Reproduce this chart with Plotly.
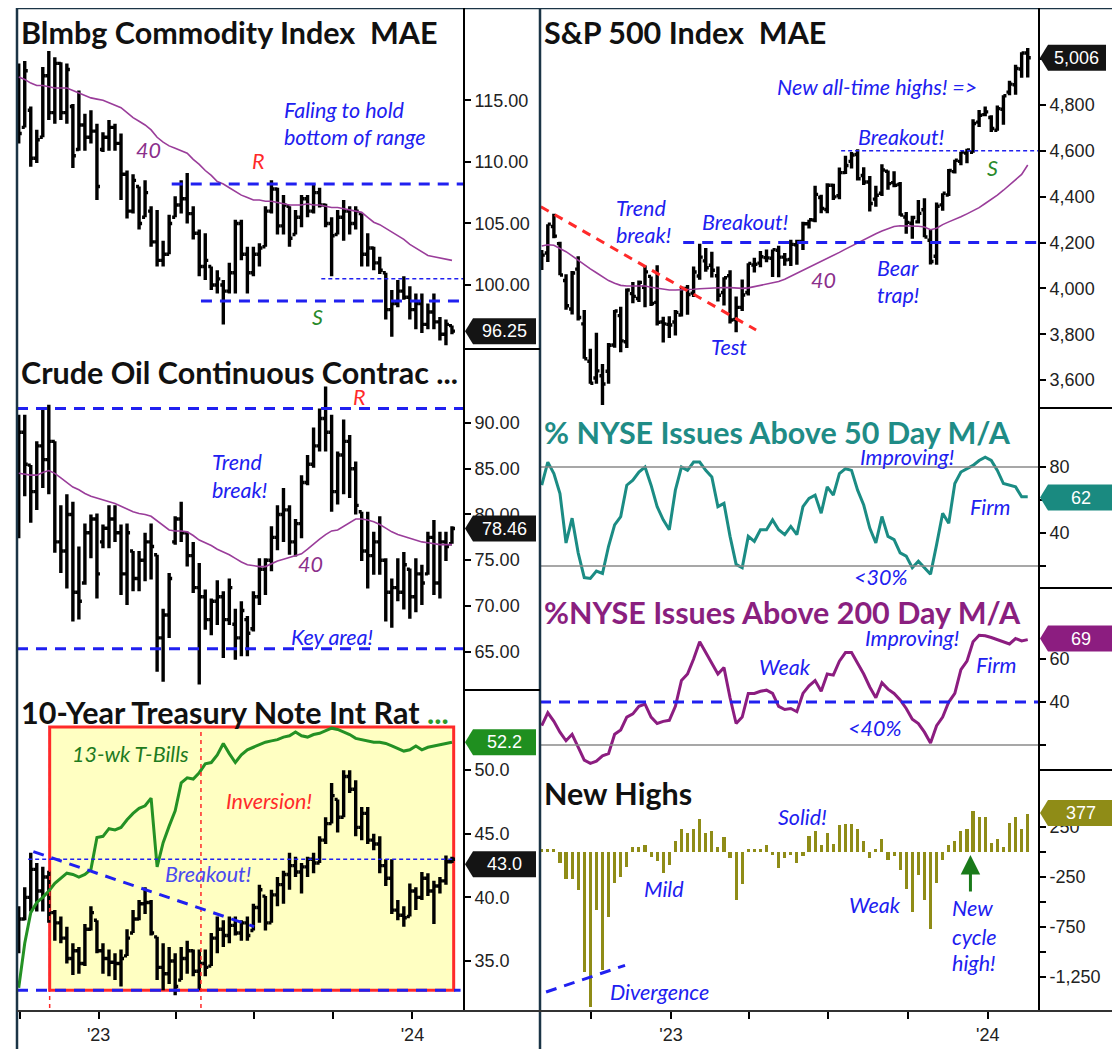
import pandas as pd
import plotly.graph_objects as go

# the page body has an 8px margin, so the figure is drawn 8px smaller and all
# pixel positions below are given in window pixels
OFF = 8
W, H = 1120 - OFF, 1049 - OFF

# ---------------- categories (weekly bars, Friday closes) ----------------
left_weeks = pd.date_range("2022-09-30", periods=73, freq="W-FRI")
right_weeks = pd.date_range("2022-08-05", periods=81, freq="W-FRI")
quarter_ticks = ["2022-10-01", "2023-01-01", "2023-04-01", "2023-07-01", "2023-10-01", "2024-01-01"]
quarter_text = ["", "'23", "", "", "", "'24"]

# ---------------- Bloomberg Commodity Index ----------------
bcom_open = [117.0,112.8,114.2,110.3,112.0,117.0,114.0,118.0,114.0,114.5,
             111.0,113.0,112.0,112.5,111.0,112.0,112.8,111.5,109.0,106.0,
             108.0,105.5,106.0,103.5,102.0,102.5,105.5,106.5,107.0,105.8,
             104.2,101.5,101.5,100.0,100.0,99.5,101.0,105.0,102.5,101.0,
             102.5,103.1,106.0,107.8,104.8,106.4,104.1,105.5,107.0,106.0,
             107.5,106.5,105.0,104.1,105.5,106.0,105.0,105.8,102.5,103.0,
             101.8,101.0,98.0,98.5,99.5,99.0,98.0,98.5,96.8,97.8,
             97.0,96.0,96.7]
bcom_high = [118.0,118.2,114.5,112.6,117.7,119.0,118.5,118.1,118.0,114.7,
             115.8,113.9,114.2,113.1,112.4,113.4,113.1,112.3,109.3,109.0,
             108.0,108.5,106.4,106.1,103.6,105.7,107.2,108.5,109.1,106.4,
             104.5,104.2,101.5,101.2,100.4,101.8,105.3,105.3,103.1,103.1,
             103.4,106.4,108.5,107.9,107.3,106.4,106.1,107.3,107.3,108.2,
             107.9,106.6,105.5,106.1,106.9,106.4,106.4,105.8,104.2,103.1,
             102.3,101.0,99.6,100.4,100.7,99.9,99.3,99.3,98.5,99.3,
             97.4,97.2,96.7]
bcom_low = [111.5,112.8,109.6,109.9,112.0,113.4,113.1,113.4,113.1,109.5,
            110.9,110.9,111.5,106.9,110.8,110.9,110.9,106.9,105.4,105.8,
            104.5,105.5,103.1,101.5,101.5,102.5,105.5,105.8,105.0,103.7,
            100.7,100.4,99.6,99.3,96.8,99.3,99.3,102.0,99.3,100.7,
            101.5,103.1,105.8,104.1,104.1,103.1,104.1,104.7,105.5,105.8,
            106.3,104.7,100.7,104.1,103.6,104.1,104.5,101.5,101.5,101.2,
            100.9,97.2,95.8,98.2,98.8,97.2,96.4,96.1,96.4,96.4,
            95.5,95.1,96.0]
bcom_close = [112.3,117.4,110.3,111.8,117.0,114.0,118.0,114.0,117.5,110.5,
              113.0,112.0,112.5,108.0,112.0,112.8,111.5,109.0,106.0,108.5,
              105.0,107.5,103.5,102.0,102.5,105.0,106.5,107.0,105.8,104.2,
              101.5,102.0,100.0,100.5,99.5,101.0,105.0,102.5,101.0,102.5,
              103.0,106.0,107.8,104.8,106.5,103.8,105.5,107.0,106.0,107.5,
              106.5,105.0,104.0,105.5,106.0,105.0,106.0,102.5,103.0,101.8,
              101.2,98.0,98.5,99.5,99.0,98.0,98.5,96.8,97.8,97.0,
              96.0,96.8,96.25]
bcom_ma40 = [116.9,116.7,116.4,116.2,116.2,116.1,116.0,116.0,116.0,115.8,
             115.6,115.4,115.2,115.1,115.0,114.8,114.6,114.4,114.0,113.6,
             113.3,113.0,112.6,112.0,111.6,111.3,111.1,110.9,110.7,110.2,
             109.8,109.3,108.9,108.4,108.2,107.9,107.6,107.3,107.1,106.9,
             106.9,106.8,106.8,106.7,106.6,106.5,106.5,106.5,106.6,106.5,
             106.5,106.4,106.3,106.3,106.2,106.1,106.0,105.9,105.5,105.1,
             104.9,104.6,104.3,104.0,103.7,103.3,103.0,102.7,102.4,102.3,
             102.2,102.1,102.0]

# ---------------- Crude oil continuous contract ----------------
crude_open = [79.0,89.0,85.4,82.5,87.5,86.0,88.0,77.0,76.0,80.0,
              71.5,72.5,78.0,79.5,77.0,78.5,79.5,78.0,73.5,76.0,
              73.0,75.0,77.0,75.6,66.5,69.0,77.0,79.5,78.0,75.5,
              72.0,71.0,68.5,70.5,71.0,68.5,68.0,66.5,68.5,67.5,
              71.0,74.0,75.0,77.5,80.0,80.5,77.0,79.0,83.5,85.5,
              87.5,90.5,89.0,82.5,86.5,88.0,85.0,80.3,76.0,75.5,
              77.0,75.0,71.5,72.0,71.5,74.0,71.0,73.5,73.5,77.5,
              72.5,77.0,76.8]
crude_high = [90.9,90.9,85.4,88.0,91.6,92.0,88.0,81.0,82.2,81.4,
              76.5,79.0,80.0,80.1,78.9,81.0,81.0,78.9,79.0,76.0,
              76.0,78.0,79.0,75.6,69.7,73.6,79.8,81.4,78.1,77.0,
              74.7,71.8,70.8,72.8,71.6,73.0,69.7,70.5,68.9,71.6,
              75.2,75.2,78.7,81.0,82.9,81.0,79.5,84.3,86.5,89.5,
              91.6,94.0,90.9,86.9,90.4,88.7,85.8,80.3,80.3,78.1,
              79.8,75.2,73.0,75.2,75.9,74.1,75.2,74.5,78.1,79.4,
              78.1,78.1,78.7]
crude_low = [77.4,82.0,79.1,80.5,82.9,82.2,75.8,73.6,71.9,68.3,
             68.5,72.3,75.2,70.8,76.3,76.3,77.0,71.2,70.1,71.6,
             71.6,72.7,72.9,62.8,61.7,66.5,76.7,77.0,74.3,71.4,
             61.4,67.4,66.8,67.9,64.3,67.9,64.1,64.5,64.5,67.2,
             70.1,71.2,73.8,76.1,77.0,75.6,75.4,77.4,83.2,85.1,
             86.9,86.9,80.3,81.1,82.2,81.8,80.0,74.9,71.9,73.4,
             73.4,68.3,67.6,70.5,69.6,68.6,69.3,70.1,73.4,71.2,
             70.8,74.9,76.8]
crude_close = [89.0,85.5,82.5,87.5,86.0,88.0,77.0,76.0,80.0,71.5,
               70.5,78.0,79.5,73.5,78.5,79.5,78.0,73.5,78.0,73.0,
               75.0,77.0,76.5,66.5,69.0,73.0,79.5,78.0,75.5,72.0,
               71.0,68.5,70.5,71.0,68.5,72.0,66.5,69.5,67.0,71.0,
               74.0,75.0,77.5,80.0,80.5,77.0,79.0,83.5,85.5,87.5,
               90.5,89.0,82.5,86.5,88.0,85.0,81.0,76.0,75.5,77.0,
               75.0,71.5,72.0,71.5,74.5,71.0,73.5,72.5,77.5,72.5,
               77.0,76.5,78.46]
crude_ma40 = [84.5,84.4,84.3,84.3,84.6,84.8,84.5,84.0,83.5,83.0,
              82.7,82.3,82.0,81.8,81.6,81.4,81.2,80.9,80.6,80.3,
              80.1,80.0,79.8,79.3,78.8,78.3,78.2,78.2,78.1,77.7,
              77.2,76.9,76.6,76.2,75.9,75.6,75.2,74.8,74.5,74.4,
              74.3,74.3,74.6,74.9,75.1,75.3,75.5,75.7,76.2,76.8,
              77.3,77.8,78.2,78.3,78.7,79.1,79.5,79.5,79.4,79.2,
              78.9,78.5,78.1,77.8,77.6,77.4,77.2,77.0,76.9,76.8,
              76.7,76.7,76.7]

# ---------------- 10-Year Treasury yield (x10) and 13-week T-bill ----------------
tnx_open = [36.5,38.3,40.0,42.2,40.5,41.6,38.8,38.0,36.8,35.2,
            35.8,34.8,37.5,38.2,35.8,35.2,34.9,34.8,35.4,37.2,
            38.3,39.5,39.6,36.9,34.5,34.0,35.0,33.5,35.2,35.8,
            34.2,34.8,34.6,36.8,37.5,37.0,37.8,37.2,38.0,37.4,
            39.2,40.1,38.0,40.2,41.0,41.8,42.5,42.0,42.4,43.0,
            42.7,44.5,45.8,47.7,46.3,49.5,48.5,45.5,46.6,44.5,
            44.2,42.5,41.5,39.0,38.6,38.5,40.5,40.0,41.5,40.5,
            40.9,41.3,42.8]
tnx_high = [39.3,40.8,43.5,42.7,42.4,42.1,39.0,38.5,37.7,36.4,
            36.1,37.9,39.3,38.2,36.4,35.9,35.6,35.9,37.5,39.0,
            39.8,40.8,39.8,36.9,36.4,36.1,35.6,36.1,36.6,35.9,
            35.9,35.9,37.2,38.5,38.2,38.5,38.5,38.2,38.5,39.5,
            41.0,40.1,40.6,41.6,42.1,43.5,43.2,42.7,43.2,43.5,
            44.8,46.3,49.0,47.7,50.0,50.0,49.2,47.1,47.1,45.0,
            44.8,43.0,43.0,39.8,39.3,41.1,40.8,42.0,41.9,41.3,
            41.6,43.3,43.2]
tnx_low = [35.6,38.2,38.9,38.9,38.9,38.0,36.6,36.4,34.8,33.9,
           34.0,34.6,37.4,35.6,34.0,33.8,33.5,33.0,35.4,37.2,
           38.2,38.7,37.0,33.5,32.7,33.2,32.3,33.5,34.0,33.8,
           32.7,33.8,34.6,35.6,36.1,36.4,37.0,36.6,36.6,37.4,
           38.0,37.4,38.0,39.3,39.5,40.6,41.6,40.3,41.6,41.9,
           42.7,44.2,45.8,45.1,46.3,48.2,44.8,44.5,44.2,43.7,
           41.9,40.9,38.7,38.2,37.7,38.5,39.0,39.8,40.1,37.9,
           40.3,41.0,42.7]
tnx_close = [38.3,40.0,42.2,40.5,41.6,38.8,38.0,36.8,35.2,35.8,
             34.8,37.5,38.8,35.8,35.2,34.9,34.8,35.2,36.8,38.3,
             39.5,39.6,37.2,34.5,34.0,35.0,33.0,35.2,35.8,34.2,
             34.8,34.5,36.8,37.5,37.0,37.8,37.2,38.0,37.0,39.2,
             40.6,38.0,40.2,41.0,41.8,42.5,42.0,42.4,43.0,42.7,
             44.5,45.8,48.0,46.3,49.5,48.5,45.5,46.6,44.5,44.2,
             42.5,41.5,39.0,38.6,38.4,40.5,40.0,41.5,40.5,40.9,
             41.3,42.8,43.0]
tbill_13wk = [32.9,36.4,38.8,39.6,40.0,40.5,41.1,41.5,41.9,41.8,
              41.6,41.8,42.2,44.7,44.8,45.4,45.3,45.5,46.1,46.6,
              47.0,47.2,47.8,42.4,44.3,45.6,46.8,49.0,49.4,49.3,
              49.8,50.5,50.6,51.2,52.1,51.3,50.6,51.2,51.6,51.8,
              52.0,52.2,52.3,52.4,52.6,52.7,53.0,52.7,52.6,52.8,
              52.9,53.1,53.3,53.2,53.0,52.8,52.5,52.4,52.3,52.2,
              52.2,52.1,51.9,51.7,51.5,51.6,51.9,51.6,51.8,51.9,
              52.0,52.1,52.2]

# ---------------- S&P 500 (weekly OHLC) and its 40-week average ----------------
spx_open = [4112,4154,4270,4195,4034,3910,4084,3845,3682,
            3609,3619,3638,3753,3881,3767,3977,3956,4005,4052,
            3939,3853,3843,3853,3884,3999,3979,4054,4120,4101,
            4055,3982,4055,3864,3917,3982,4102,4110,4134,4131,
            4166,4136,4126,4190,4205,4282,4298,4396,4344,4450,
            4404,4505,4554,4584,4492,4464,4389,4415,4511,4461,
            4453,4311,4284,4290,4343,4210,4140,4364,4407,4509,
            4554,4590,4593,4725,4758,4745,4690,4781,4856,4888,
            4957,5027]
spx_high = [4167,4280,4325,4203,4062,4076,4140,3906,3736,
            3806,3670,3762,3905,3920,3999,4028,4034,4100,4052,
            4101,3876,3878,3906,4004,4015,4095,4195,4176,4160,
            4095,4048,4079,3964,4039,4110,4133,4163,4169,4170,
            4186,4154,4212,4212,4290,4299,4448,4408,4458,4456,
            4527,4578,4595,4607,4528,4490,4448,4541,4514,4511,
            4464,4333,4317,4385,4393,4256,4374,4415,4521,4561,
            4596,4609,4738,4778,4793,4755,4798,4842,4906,4975,
            5030,5048]
spx_low = [4080,4115,4218,4057,3907,3886,3860,3693,3584,
           3584,3491,3584,3741,3721,3740,3935,3940,3918,3923,
           3838,3764,3783,3794,3877,3885,3962,4038,4072,4047,
           3943,3925,3847,3808,3901,3969,4069,4092,4114,4049,
           4048,4099,4098,4103,4167,4261,4288,4328,4328,4385,
           4389,4499,4523,4470,4451,4335,4356,4403,4430,4441,
           4317,4238,4216,4283,4223,4104,4103,4339,4403,4501,
           4537,4546,4591,4704,4751,4682,4687,4714,4842,4845,
           4919,4920]
spx_close = [4145,4280,4228,4058,3924,4067,3873,3693,3586,
             3640,3583,3752,3901,3771,3993,3965,4026,4072,3934,
             3852,3845,3840,3895,3999,3973,4071,4136,4090,4079,
             3970,4046,3862,3917,3971,4109,4105,4138,4133,4169,
             4136,4124,4192,4205,4282,4299,4410,4348,4450,4399,
             4505,4536,4582,4478,4464,4370,4406,4516,4457,4450,
             4320,4288,4309,4327,4224,4117,4358,4415,4514,4559,
             4595,4604,4719,4755,4770,4697,4784,4840,4891,4959,
             5027,5006]
spx_ma40 = [4185,4190,4188,4175,4160,4142,4122,4105,4085,4068,
            4050,4034,4022,4013,4010,4010,4010,4010,4005,4000,
            3995,3993,3993,3993,3994,3996,3998,4000,4002,4004,
            4004,4003,4001,4000,4002,4008,4015,4020,4026,4030,
            4040,4053,4064,4077,4090,4102,4116,4131,4143,4157,
            4171,4185,4198,4212,4226,4238,4250,4261,4270,4273,
            4273,4272,4271,4268,4256,4262,4278,4290,4300,4312,
            4325,4338,4352,4370,4388,4407,4428,4450,4472,4497,
            4538]

# ---------------- breadth ----------------
nyse_above50 = [69,83,76,64,34,49,28,13,12.5,17,
                15.5,32,45,50,69,72,77,80,69,56,
                48,42,66,80,78,83,83,78,74,56,
                58,38,21,19,38,35,42,42,48,42,
                39,44,39,56,61,63,52,68,63,76,
                79,78,66,57,43,34,50,38,36,28,
                26,19,23,19,15,33,52,46,70,77,
                79,81,84,86,84,78,70,69,68,62,
                62]
nyse_above200 = [29,35,31,26,22,25,19,13,11.5,12.5,
                 15,16,25,27,33,34.5,38,39,33,30,
                 31,31.5,38,50,53,60,68,63,58,53,
                 56,42,30,33,44,44,45,45.5,44,38,
                 36.5,37,35.5,44,47.5,50,45,53,52.5,59,
                 63,63,58,53,47,42,49,46,44,41,
                 37,32,30,26,21,29,33,40,44,55,
                 59,68,71,70.8,70,69,68,67,69.5,68.4,
                 69]
new_highs = [27,27,27,-107,-267,-267,-383,-1200,-1550,-583,
             -1183,-650,-307,-250,-150,47,47,67,-50,-90,
             -207,-127,107,227,193,227,333,190,207,47,
             150,-60,-483,-323,27,27,27,67,-27,-160,
             -60,-33,-107,-43,160,210,67,190,83,267,
             283,283,233,107,-60,27,127,-83,-43,-183,
             -367,-600,-227,-483,-767,-307,-83,67,107,207,
             227,407,350,350,93,133,50,290,350,233,
             377]

# ---------------- helpers ----------------
def fx(px):
    return (px - OFF) / W


def fy(py):
    return 1 - (py - OFF) / H


BLUE = "#2020f0"
RED = "#ff2a2a"
GREEN_TXT = "#2a8a2a"
PURPLE_MA = "#9a3d9a"
FRAME = "#1b3446"
TEAL = "#1b8c84"
MAGENTA = "#8c1d80"
OLIVE = "#8f8c17"
TBILL = "#249124"

tick_font = dict(family="Liberation Sans, Arial, sans-serif", size=18, color="#222222")
title_font = dict(family="Lato, sans-serif", size=30.5, color="#111111", weight="bold")


def yaxis(top, bot, rng, vals, texts, anchor):
    return dict(domain=[fy(bot), fy(top)], range=rng, side="right", anchor=anchor,
                tickvals=vals, ticktext=texts, ticks="outside", ticklen=6, tickwidth=1.5,
                tickcolor="black", showgrid=False, zeroline=False, showline=False,
                tickfont=tick_font, fixedrange=True)


def xaxis(x0, x1, rng, anchor):
    return dict(domain=[fx(x0), fx(x1)], range=rng, anchor=anchor, type="date",
                tickvals=quarter_ticks, ticktext=quarter_text, ticks="outside", ticklen=7,
                tickwidth=1.5, tickcolor="black", showgrid=False, zeroline=False,
                showline=False, tickfont=tick_font, rangeslider=dict(visible=False),
                fixedrange=True)


fig = go.Figure()

bar_style = dict(increasing=dict(line=dict(color="black")), decreasing=dict(line=dict(color="black")),
                 line=dict(width=3.4), tickwidth=0.5, hoverinfo="skip", showlegend=False)

# left column
fig.add_trace(go.Ohlc(x=left_weeks, open=bcom_open, high=bcom_high, low=bcom_low, close=bcom_close,
                      xaxis="x", yaxis="y", **bar_style))
fig.add_trace(go.Scatter(x=left_weeks, y=bcom_ma40, mode="lines", xaxis="x", yaxis="y",
                         line=dict(color=PURPLE_MA, width=1.6), hoverinfo="skip", showlegend=False))
fig.add_trace(go.Ohlc(x=left_weeks, open=crude_open, high=crude_high, low=crude_low, close=crude_close,
                      xaxis="x", yaxis="y2", **bar_style))
fig.add_trace(go.Scatter(x=left_weeks, y=crude_ma40, mode="lines", xaxis="x", yaxis="y2",
                         line=dict(color=PURPLE_MA, width=1.6), hoverinfo="skip", showlegend=False))
fig.add_trace(go.Ohlc(x=left_weeks, open=tnx_open, high=tnx_high, low=tnx_low, close=tnx_close,
                      xaxis="x", yaxis="y3", **bar_style))
fig.add_trace(go.Scatter(x=left_weeks, y=tbill_13wk, mode="lines", xaxis="x", yaxis="y3",
                         line=dict(color=TBILL, width=3), hoverinfo="skip", showlegend=False))

# right column
fig.add_trace(go.Ohlc(x=right_weeks, open=spx_open, high=spx_high, low=spx_low, close=spx_close,
                      xaxis="x2", yaxis="y4", **bar_style))
fig.add_trace(go.Scatter(x=right_weeks, y=spx_ma40, mode="lines", xaxis="x2", yaxis="y4",
                         line=dict(color=PURPLE_MA, width=1.6), hoverinfo="skip", showlegend=False))
fig.add_trace(go.Scatter(x=right_weeks, y=nyse_above50, mode="lines", xaxis="x2", yaxis="y5",
                         line=dict(color=TEAL, width=3), hoverinfo="skip", showlegend=False))
fig.add_trace(go.Scatter(x=right_weeks, y=nyse_above200, mode="lines", xaxis="x2", yaxis="y6",
                         line=dict(color=MAGENTA, width=3), hoverinfo="skip", showlegend=False))
fig.add_trace(go.Bar(x=right_weeks, y=new_highs, xaxis="x2", yaxis="y7", width=3.6 * 86400000,
                     marker=dict(color=OLIVE, line=dict(width=0)), hoverinfo="skip", showlegend=False))

# ---------------- shapes ----------------
shapes = []


def seg(x0, y0, x1, y1, xref, yref, color, width, dash="solid", layer="above"):
    shapes.append(dict(type="line", x0=x0, y0=y0, x1=x1, y1=y1, xref=xref, yref=yref,
                       line=dict(color=color, width=width, dash=dash), layer=layer))


THICK = "11px,8px"
DOT = "4px,3px"
L0, L1 = "2022-09-28", "2024-03-01"
R0, R1 = "2022-08-03", "2024-02-29"

# commodity
seg("2023-03-27", 108.2, L1, 108.2, "x", "y", BLUE, 3, THICK)
seg("2023-04-30", 98.7, L1, 98.7, "x", "y", BLUE, 3, THICK)
seg("2023-09-17", 100.5, L1, 100.5, "x", "y", BLUE, 1.5, DOT)
# crude
seg(L0, 91.6, L1, 91.6, "x", "y2", BLUE, 3, THICK)
seg(L0, 65.3, L1, 65.3, "x", "y2", BLUE, 3, THICK)
# 10-year: shaded inversion box
shapes.append(dict(type="rect", x0="2022-11-05", x1="2024-02-18", y0=32.7, y1=53.4, xref="x", yref="y3",
                   fillcolor="#ffffc2", line=dict(color=RED, width=3), layer="below"))
seg("2022-11-05", 31.3, "2022-11-05", 53.4, "x", "y3", RED, 1.5, "4px,4px")
seg("2023-04-30", 31.3, "2023-04-30", 53.4, "x", "y3", RED, 1.5, "4px,4px")
seg(L0, 32.7, "2024-02-26", 32.7, "x", "y3", BLUE, 3, THICK)
seg("2022-10-11", 43.0, "2024-02-19", 43.0, "x", "y3", BLUE, 1.5, DOT)
seg("2022-10-17", 43.6, "2023-07-01", 37.7, "x", "y3", BLUE, 3, THICK)
# S&P
seg("2022-08-04", 4356, "2023-04-09", 3818, "x2", "y4", RED, 3, "9px,7px")
seg("2023-01-15", 4200, R1, 4200, "x2", "y4", BLUE, 3, THICK)
seg("2023-07-16", 4600, R1, 4600, "x2", "y4", BLUE, 1.5, DOT)
# breadth reference lines
seg(R0, 80, R1, 80, "x2", "y5", "#8a8a8a", 1.5)
seg(R0, 20, R1, 20, "x2", "y5", "#8a8a8a", 1.5)
seg(R0, 40, R1, 40, "x2", "y6", BLUE, 3, THICK)
seg(R0, 20, R1, 20, "x2", "y6", "#8a8a8a", 1.5)
# new highs divergence
seg("2022-08-10", -1400, "2022-11-09", -1133, "x2", "y7", BLUE, 3, THICK)


# frame (window pixels)
def pline(x0, y0, x1, y1, color, width):
    shapes.append(dict(type="line", x0=fx(x0), y0=fy(y0), x1=fx(x1), y1=fy(y1), xref="paper",
                       yref="paper", line=dict(color=color, width=width), layer="above"))


pline(17, 8, 1114, 8, FRAME, 2.5)
pline(17, 8, 17, 1049, FRAME, 2.5)
pline(1114, 8, 1114, 1049, FRAME, 2.5)
pline(540, 8, 540, 1049, FRAME, 2.5)
pline(464, 8, 464, 1011, "black", 2)
pline(1039, 8, 1039, 1011, "black", 2)
pline(17, 1011, 540, 1011, "#333333", 2)
pline(540, 1011, 1114, 1011, "#333333", 2)
for yy in (349, 690):
    pline(464, yy, 540, yy, "black", 2)
for yy in (408, 588, 770):
    pline(1039, yy, 1114, yy, "black", 2)

# ---------------- last-value tags ----------------
annotations = []


def tag(axis_px, yref, value, text, color, w):
    shapes.append(dict(type="path", xref="paper", yref=yref, xsizemode="pixel", ysizemode="pixel",
                       xanchor=fx(axis_px), yanchor=value,
                       path=f"M 1,0 L 9,13 L {w},13 L {w},-13 L 9,-13 Z",
                       fillcolor=color, line=dict(width=0), layer="above"))
    annotations.append(dict(text=text, xref="paper", x=fx(axis_px), xshift=(w + 8) / 2, yref=yref,
                            y=value, showarrow=False, xanchor="center", yanchor="middle",
                            font=dict(family="Liberation Sans, Arial, sans-serif", size=18, color="white")))


tag(464, "y", 96.25, "96.25", "#141414", 72)
tag(464, "y2", 78.46, "78.46", "#141414", 72)
tag(464, "y3", 52.2, "52.2", "#1f8f1f", 72)
tag(464, "y3", 42.6, "43.0", "#141414", 72)
tag(1039, "y4", 5006, "5,006", "#141414", 67)
tag(1039, "y5", 61.5, "62", "#1a8a80", 75)
tag(1039, "y6", 69.5, "69", MAGENTA, 75)
tag(1039, "y7", 390, "377", OLIVE, 75)


# ---------------- titles ----------------
def title(text, xpx, ypx, color="#111111"):
    f = dict(title_font)
    f["color"] = color
    annotations.append(dict(text=text, xref="paper", yref="paper", x=fx(xpx), y=fy(ypx),
                            xanchor="left", yanchor="middle", showarrow=False, font=f))


title("Blmbg Commodity Index\u00a0 MAE", 19, 32)
title("Crude Oil Continuous Contrac ...", 19, 372)
title("10-Year Treasury Note Int Rat <span style='color:#2a9a2a'>...</span>", 19, 712)
title("S&amp;P 500 Index\u00a0 MAE", 542, 32)
title("% NYSE Issues Above 50 Day M/A", 542, 432, "#1f8c86")
title("%NYSE Issues Above 200 Day M/A", 542, 612, "#8a1f7f")
title("New Highs", 542, 793)


# ---------------- chart notes ----------------
def note(text, x, y, xref, yref, color=BLUE, xanchor="center", size=21.5):
    annotations.append(dict(text=text, x=x, y=y, xref=xref, yref=yref, showarrow=False,
                            xanchor=xanchor, yanchor="middle",
                            font=dict(family="Lato, sans-serif", size=size, color=color, style="italic")))


note("Faling to hold", "2023-08-02", 114.2, "x", "y", xanchor="left")
note("bottom of range", "2023-08-02", 112.0, "x", "y", xanchor="left")
note("R", "2023-07-06", 110.06, "x", "y", RED)
note("S", "2023-09-12", 97.4, "x", "y", GREEN_TXT)
note("40", "2023-02-28", 111.0, "x", "y", "#8b2f8b")

note("R", "2023-11-01", 92.8, "x", "y2", RED)
note("Trend", "2023-05-10", 85.76, "x", "y2", xanchor="left")
note("break!", "2023-05-10", 82.7, "x", "y2", xanchor="left")
note("Key area!", "2023-09-30", 66.6, "x", "y2")
note("40", "2023-09-05", 74.6, "x", "y2", "#8b2f8b")

note("13-wk T-Bills", "2023-02-07", 51.3, "x", "y3", "#1e7b1e")
note("Inversion!", "2023-07-18", 47.6, "x", "y3", RED)
note("Breakout!", "2023-05-08", 41.8, "x", "y3", "#4a4af0")

note("Trend", "2022-10-27", 4351, "x2", "y4", xanchor="left")
note("break!", "2022-10-27", 4233, "x2", "y4", xanchor="left")
note("Breakout!", "2023-03-27", 4290, "x2", "y4")
note("Test", "2023-03-09", 3744, "x2", "y4")
note("40", "2023-06-26", 4036, "x2", "y4", "#8b2f8b")
note("Bear", "2023-09-19", 4089, "x2", "y4")
note("trap!", "2023-09-19", 3971, "x2", "y4")
note("Breakout!", "2023-09-23", 4660, "x2", "y4")
note("S", "2024-01-06", 4525, "x2", "y4", GREEN_TXT)
note("New all-time highs! =>", "2023-08-26", 4879, "x2", "y4")

note("Improving!", "2023-09-30", 86, "x2", "y5")
note("Firm", "2024-01-03", 55.8, "x2", "y5")
note("&lt;30%", "2023-08-30", 13.3, "x2", "y5")

note("Improving!", "2023-10-06", 69.8, "x2", "y6")
note("Firm", "2024-01-10", 57.2, "x2", "y6")
note("Weak", "2023-05-12", 56.3, "x2", "y6")
note("&lt;40%", "2023-08-23", 27.9, "x2", "y6")

note("Mild", "2022-12-24", -370, "x2", "y7")
note("Solid!", "2023-06-02", 350, "x2", "y7")
note("Weak", "2023-08-24", -530, "x2", "y7")
note("Divergence", "2022-12-19", -1400, "x2", "y7")
note("New", "2023-11-19", -560, "x2", "y7", xanchor="left")
note("cycle", "2023-11-19", -850, "x2", "y7", xanchor="left")
note("high!", "2023-11-19", -1110, "x2", "y7", xanchor="left")

annotations.append(dict(text="", x="2023-12-12", y=-30, ax="2023-12-12", ay=-410, xref="x2", yref="y7",
                        axref="x2", ayref="y7", showarrow=True, arrowhead=2, arrowsize=1.3,
                        arrowwidth=3, arrowcolor="#1a7a1a", standoff=0))

fig.update_layout(
    width=W, height=H, margin=dict(l=0, r=0, t=0, b=0),
    paper_bgcolor="white", plot_bgcolor="white", showlegend=False, hovermode=False,
    xaxis=xaxis(17, 464, [L0, L1], "y3"),
    xaxis2=xaxis(540, 1039, [R0, R1], "y7"),
    yaxis=yaxis(8, 349, [94.8, 122.5], [100, 105, 110, 115], ["100.00", "105.00", "110.00", "115.00"], "x"),
    yaxis2=yaxis(349, 690, [60.8, 98.1], [65, 70, 75, 80, 85, 90],
                 ["65.00", "70.00", "75.00", "80.00", "85.00", "90.00"], "x"),
    yaxis3=yaxis(690, 1011, [31.07, 56.3], [35, 40, 45, 50], ["35.0", "40.0", "45.0", "50.0"], "x"),
    yaxis4=yaxis(8, 408, [3478, 5223], [3600, 3800, 4000, 4200, 4400, 4600, 4800, 5000],
                 ["3,600", "3,800", "4,000", "4,200", "4,400", "4,600", "4,800", "5,000"], "x2"),
    yaxis5=yaxis(408, 588, [6.7, 115.8], [20, 40, 60, 80], ["", "40", "60", "80"], "x2"),
    yaxis6=yaxis(588, 770, [8.4, 93], [20, 40, 60], ["", "40", "60"], "x2"),
    yaxis7=yaxis(770, 1011, [-1590, 820], [-1250, -1000, -750, -500, -250, 0, 250],
                 ["-1,250", "", "-750", "", "-250", "", "250"], "x2"),
    shapes=shapes, annotations=annotations, bargap=0,
)

fig.write_html("out.html")
